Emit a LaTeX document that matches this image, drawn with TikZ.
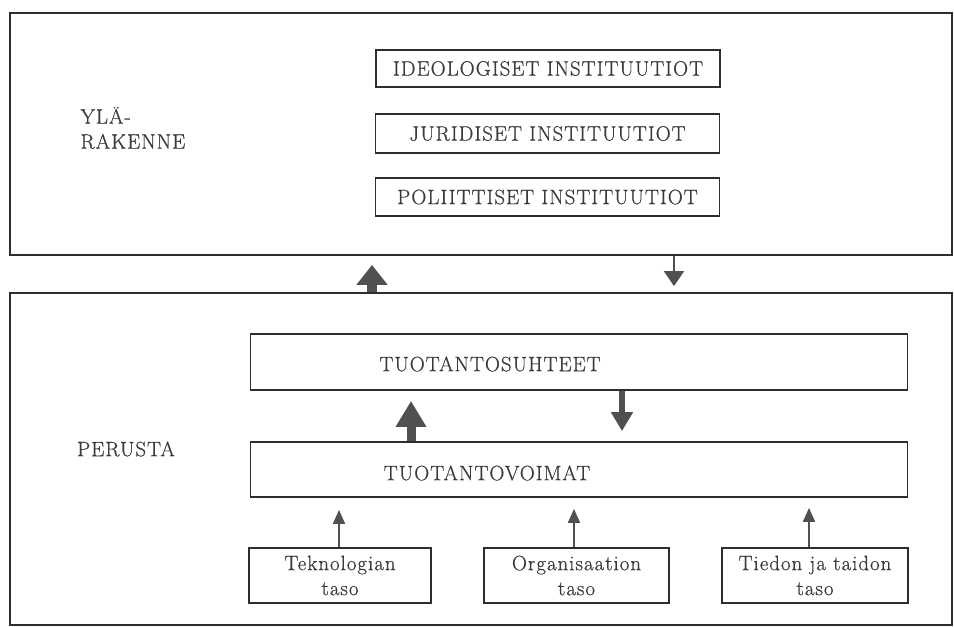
\documentclass[tikz,border=0pt]{standalone}
\usepackage{fontspec}
\setmainfont{Latin Modern Roman}[LetterSpace=5,FakeBold=0.6]
\usetikzlibrary{arrows.meta}
\definecolor{ink}{HTML}{2E2E2E}
\definecolor{tink}{HTML}{3A3A3A}
\definecolor{agray}{HTML}{505050}
\begin{document}
\begin{tikzpicture}[x=1pt,y=-1pt,
  font=\fontsize{20.8}{25}\selectfont,
  every node/.style={text=tink},
  box/.style={draw=ink, line width=1.8pt, inner sep=0pt},
  ibox/.style={box, minimum width=344pt, minimum height=37pt},
  wbox/.style={box, minimum width=657pt, minimum height=56pt},
  sbox/.style={box, minimum width=184pt, minimum height=55pt, align=center},
  fatup/.style={draw=agray, line width=10pt, -{Triangle[width=30pt,length=20pt]}, agray},
  medup/.style={draw=agray, line width=9pt, -{Triangle[width=29pt,length=26pt]}, agray},
  meddown/.style={draw=agray, line width=6.5pt, -{Triangle[width=21pt,length=19pt]}, agray},
  thindown/.style={draw=agray, line width=1.8pt, -{Triangle[width=20pt,length=15pt]}, agray},
  thinup/.style={draw=agray, line width=1.8pt, -{Triangle[width=12pt,length=14pt]}, agray}]
\useasboundingbox (0,0) rectangle (954,627);
\fill[white] (0,0) rectangle (954,627);

% outer frames
\node[box, minimum width=942pt, minimum height=242pt] (ylarakenne) at (481,134) {};
\node[box, minimum width=942pt, minimum height=332pt] (perusta) at (481,459) {};

% superstructure
\node[anchor=west, align=left] (ylaT) at (77,128) {YLÄ-\\RAKENNE};
\node[ibox] (ideo) at (548,68.5) {IDEOLOGISET INSTITUUTIOT};
\node[ibox, minimum height=39pt] (jur) at (547.5,133.5) {JURIDISET INSTITUUTIOT};
\node[ibox, minimum height=38pt] (pol) at (547.5,197) {POLIITTISET INSTITUUTIOT};

% base
\node (perustaT) at (126,449) {PERUSTA};
\node[wbox] (suhteet) at (579,362) {};
\node (suhteetT) at (490,364) {TUOTANTOSUHTEET};
\node[wbox, minimum height=55pt] (voimat) at (579,469.5) {};
\node (voimatT) at (487,473) {TUOTANTOVOIMAT};

\node[sbox, minimum width=182pt] (tek) at (340,575.5) {Teknologian\\taso};
\node[sbox, minimum width=185pt] (org) at (576.5,575.5) {Organisaation\\taso};
\node[sbox, minimum width=186pt] (tied) at (815,575.5) {Tiedon ja taidon\\taso};

% arrow columns
\coordinate (c1) at (372,0);
\coordinate (c2) at (674,0);
\coordinate (c3) at (411,0);
\coordinate (c4) at (622,0);
\coordinate (c5) at (339,0);
\coordinate (c6) at (574,0);
\coordinate (c7) at (809,0);

\draw[fatup] (c1 |- perusta.north) -- ([yshift=-9pt]c1 |- ylarakenne.south);
\draw[thindown] (c2 |- ylarakenne.south) -- ([yshift=6pt]c2 |- perusta.north);
\draw[medup] (c3 |- voimat.north) -- ([yshift=-10pt]c3 |- suhteet.south);
\draw[meddown] (c4 |- suhteet.south) -- ([yshift=10pt]c4 |- voimat.north);
\draw[thinup] (c5 |- tek.north) -- ([yshift=-12pt]c5 |- voimat.south);
\draw[thinup] (c6 |- org.north) -- ([yshift=-11pt]c6 |- voimat.south);
\draw[thinup] (c7 |- tied.north) -- ([yshift=-10pt]c7 |- voimat.south);
\end{tikzpicture}
\end{document}
